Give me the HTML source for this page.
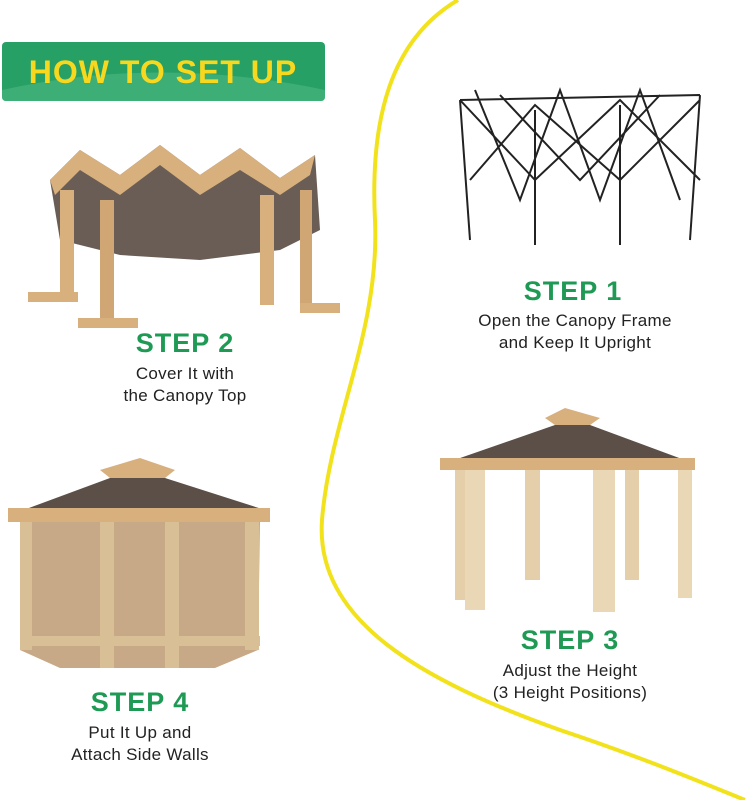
<!DOCTYPE html>
<html><head><meta charset="utf-8"><style>
body{margin:0;background:#fff;width:749px;height:800px;overflow:hidden;position:relative;font-family:"Liberation Sans",sans-serif}
.t{position:absolute;text-align:center;color:#222;font-size:17px;line-height:22px;letter-spacing:0.3px}
.s{position:absolute;text-align:center;color:#1f9a55;font-weight:bold;font-size:27px;letter-spacing:1px}
</style></head><body>
<svg width="749" height="800" style="position:absolute;left:0;top:0">
<path d="M458 0 C 390 40, 370 120, 375 220 C 380 330, 330 420, 322 520 C 315 620, 420 680, 560 730 C 650 760, 720 790, 745 800" fill="none" stroke="#f2e21b" stroke-width="4"/>
<rect x="2" y="42" width="323" height="59" rx="4" fill="#27a065"/>
<path d="M2 90 Q160 55 325 90 L325 97 Q325 101 321 101 L6 101 Q2 101 2 97Z" fill="#4db882" opacity="0.6"/>
<text x="163" y="83" text-anchor="middle" font-family="Liberation Sans" font-weight="bold" font-size="32" fill="#f7d81e" letter-spacing="1">HOW TO SET UP</text>
<!-- step 2 -->
<g>
<path d="M50 180 L80 150 L120 175 L160 145 L200 175 L240 148 L280 178 L315 155 L320 230 L280 250 L200 260 L120 255 L60 240Z" fill="#6a5d55"/>
<path d="M50 180 L80 150 L120 175 L160 145 L200 175 L240 148 L280 178 L315 155 L310 175 L280 195 L240 170 L200 195 L160 165 L120 195 L80 170 L55 195Z" fill="#d8b07e"/>
<rect x="60" y="190" width="14" height="110" fill="#d8b07e"/>
<rect x="100" y="200" width="14" height="120" fill="#cfa674"/>
<rect x="260" y="195" width="14" height="110" fill="#d8b07e"/>
<rect x="300" y="190" width="12" height="120" fill="#cfa674"/>
<rect x="28" y="292" width="50" height="10" fill="#d8b07e"/>
<rect x="78" y="318" width="60" height="10" fill="#d8b07e"/>
<rect x="300" y="303" width="40" height="10" fill="#d8b07e"/>
</g>
<!-- step 1 frame -->
<g stroke="#222" stroke-width="2" fill="none">
<path d="M460 100 L700 95 M460 100 L470 240 M700 95 L690 240 M535 110 L535 245 M620 105 L620 245 M460 100 L535 180 L620 100 L700 180 M470 180 L535 105 L620 180 L700 100 M500 95 L580 180 L660 95"/>
<path d="M475 90 L520 200 L560 90 L600 200 L640 90 L680 200"/>
</g>
<!-- step 3 gazebo -->
<g>
<path d="M545 418 L565 408 L600 418 L590 425 L555 425Z" fill="#d8b07e"/>
<path d="M555 425 L590 425 L690 462 L440 465Z" fill="#5b4f48"/>
<rect x="440" y="458" width="255" height="12" fill="#d8b07e"/>
<rect x="455" y="470" width="15" height="130" fill="#e5cfaa"/>
<rect x="465" y="470" width="20" height="140" fill="#ead7b5"/>
<rect x="525" y="470" width="15" height="110" fill="#e5cfaa"/>
<rect x="593" y="470" width="22" height="142" fill="#ead7b5"/>
<rect x="625" y="470" width="14" height="110" fill="#e5cfaa"/>
<rect x="678" y="470" width="14" height="128" fill="#ead7b5"/>
</g>
<!-- step 4 gazebo -->
<g>
<path d="M100 470 L140 458 L175 470 L165 478 L110 478Z" fill="#d8b07e"/>
<path d="M110 478 L165 478 L265 510 L10 515Z" fill="#5b4f48"/>
<rect x="8" y="508" width="262" height="14" fill="#d8b07e"/>
<path d="M20 522 L260 522 L258 650 L215 668 L60 668 L20 650Z" fill="#c7a987"/>
<g fill="#d9bf96"><rect x="20" y="522" width="12" height="128"/><rect x="100" y="522" width="14" height="146"/><rect x="165" y="522" width="14" height="146"/><rect x="245" y="522" width="14" height="128"/><rect x="20" y="636" width="240" height="10"/></g>
</g>
</svg>
<div class="s" style="left:90px;top:328px;width:190px">STEP 2</div>
<div class="t" style="left:90px;top:363px;width:190px">Cover It with<br>the Canopy Top</div>
<div class="s" style="left:478px;top:276px;width:190px">STEP 1</div>
<div class="t" style="left:440px;top:310px;width:270px">Open the Canopy Frame<br>and Keep It Upright</div>
<div class="s" style="left:475px;top:625px;width:190px">STEP 3</div>
<div class="t" style="left:440px;top:660px;width:260px">Adjust the Height<br>(3 Height Positions)</div>
<div class="s" style="left:45px;top:687px;width:190px">STEP 4</div>
<div class="t" style="left:40px;top:722px;width:200px">Put It Up and<br>Attach Side Walls</div>
</body></html>
